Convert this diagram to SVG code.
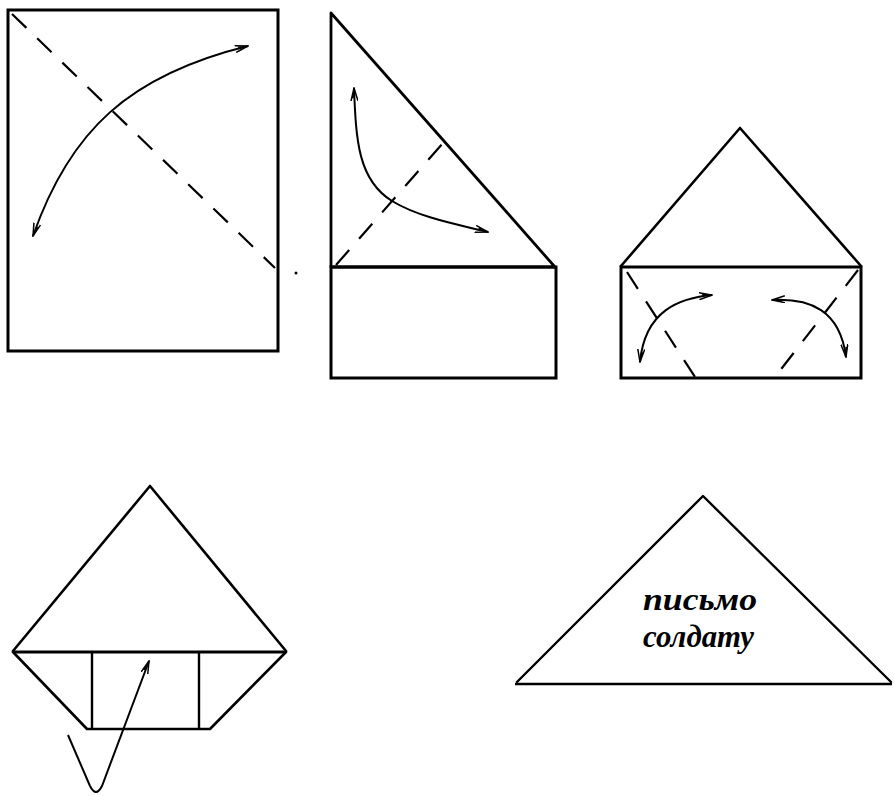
<svg xmlns="http://www.w3.org/2000/svg" width="894" height="796" viewBox="0 0 894 796">
<style>
.edge{fill:none;stroke:#000;stroke-width:2.4;stroke-linejoin:round;stroke-linecap:round}
.frame{fill:none;stroke:#000;stroke-width:3}
.dash{fill:none;stroke:#000;stroke-width:2.2;stroke-dasharray:20 15}
.arr{fill:none;stroke:#000;stroke-width:2;marker-end:url(#ah)}
.arr2{fill:none;stroke:#000;stroke-width:2;marker-end:url(#ah);marker-start:url(#ahs)}
.lbl{font-family:"Liberation Serif","DejaVu Serif",serif;font-style:italic;font-weight:bold;font-size:31px;fill:#000}
</style>
<defs>
<marker id="ah" viewBox="0 0 14 8" refX="13" refY="4" markerWidth="14" markerHeight="8" markerUnits="userSpaceOnUse" orient="auto">
<path d="M0,0.5 L13,4 L0,7.5 M3,2.5 L11,4" fill="none" stroke="#000" stroke-width="1.5"/>
</marker>
<marker id="ahs" viewBox="0 0 14 8" refX="13" refY="4" markerWidth="14" markerHeight="8" markerUnits="userSpaceOnUse" orient="auto-start-reverse">
<path d="M0,0.5 L13,4 L0,7.5 M3,2.5 L11,4" fill="none" stroke="#000" stroke-width="1.5"/>
</marker>
</defs>
<rect width="894" height="796" fill="#fff"/>

<g id="step1">
<rect class="frame" x="8" y="10" width="270" height="341"/>
<line class="dash" x1="12" y1="14" x2="275" y2="268"/>
<circle cx="296" cy="273" r="1.5" fill="#000"/>
</g>

<g id="step2">
<path class="edge" d="M331,13 L555,267 L331,267 Z" style="stroke-width:2.8"/>
<rect class="frame" x="331" y="267" width="225" height="111"/>
<line class="dash" x1="336" y1="265" x2="443" y2="143"/>
</g>

<g id="step3">
<path class="edge" d="M621,266 L740,128 L861,266" style="stroke-width:2.6"/>
<rect class="frame" x="621" y="267" width="240" height="111"/>
<line class="dash" x1="627" y1="272" x2="695" y2="377"/>
<line class="dash" x1="858" y1="270" x2="775" y2="377"/>
</g>

<g id="step4">
<path class="edge" d="M13,651 L150,486 L286,651" style="stroke-width:2.6"/>
<line x1="13" y1="652" x2="286" y2="652" stroke="#000" stroke-width="3.2"/>
<path class="edge" d="M13,652 L87,729 L210,729 L286,652" style="stroke-width:2.6"/>
<line class="edge" x1="92" y1="653" x2="92" y2="728"/>
<line class="edge" x1="199" y1="653" x2="199" y2="728"/>
</g>

<g id="step5">
<path class="edge" d="M517,682 L703,496 L891,682" style="stroke-width:2.4"/>
<line x1="515" y1="684" x2="892" y2="684" stroke="#000" stroke-width="2.4"/>
<text class="lbl" x="643" y="610" textLength="114" lengthAdjust="spacingAndGlyphs">письмо</text>
<text class="lbl" x="643" y="647" textLength="111" lengthAdjust="spacingAndGlyphs">солдату</text>
</g>

<g id="connectors">
<path class="arr2" d="M33,236 C70,130 130,75 248,46"/>
<path class="arr2" d="M354,88 C356,140 358,180 392,201 C420,218 460,225 488,232"/>
<path class="arr2" d="M712,295 C680,298 645,310 640,362"/>
<path class="arr2" d="M772,300 C810,298 840,310 846,357"/>
<path class="arr" d="M68,735 L90,786 Q96,798 102,786 L149,661"/>
</g>
</svg>
